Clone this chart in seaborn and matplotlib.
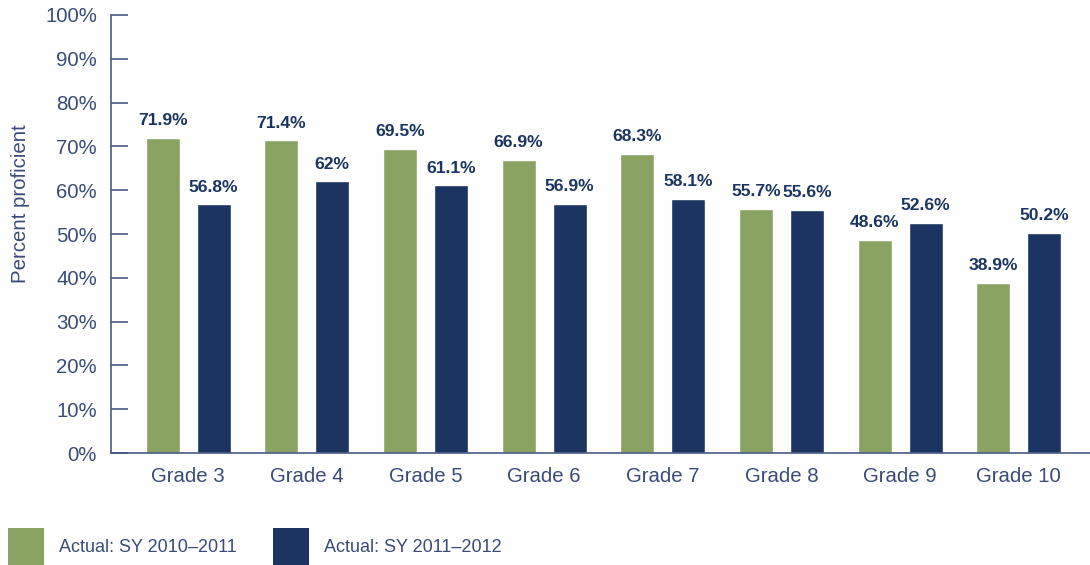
import matplotlib
matplotlib.use("Agg")
import matplotlib.pyplot as plt
import seaborn as sns
import pandas as pd
from matplotlib.patches import Patch

grades = ["Grade 3", "Grade 4", "Grade 5", "Grade 6", "Grade 7", "Grade 8", "Grade 9", "Grade 10"]
sy_2010_2011 = [71.9, 71.4, 69.5, 66.9, 68.3, 55.7, 48.6, 38.9]
sy_2011_2012 = [56.8, 62.0, 61.1, 56.9, 58.1, 55.6, 52.6, 50.2]
series_names = ["Actual: SY 2010\u20132011", "Actual: SY 2011\u20132012"]
y_ticks = [0, 10, 20, 30, 40, 50, 60, 70, 80, 90, 100]

GREEN = "#8AA363"
NAVY = "#1B3461"
TEXT = "#3B4A78"
AXIS = "#4A5A86"

df = pd.DataFrame({
    "grade": grades * 2,
    "value": sy_2010_2011 + sy_2011_2012,
    "series": [series_names[0]] * len(grades) + [series_names[1]] * len(grades),
})

sns.set_theme(style="white")
plt.rcParams["font.family"] = ["Liberation Sans", "DejaVu Sans"]

fig = plt.figure(figsize=(10.9, 5.65), dpi=100)
ax = fig.add_axes([0.1018, 0.198, 0.8982, 0.7755])

sns.barplot(data=df, x="grade", y="value", hue="series", order=grades,
            hue_order=series_names, palette=[GREEN, NAVY], width=0.86, gap=0.333,
            saturation=1, ax=ax, legend=False, errorbar=None)

for cont in ax.containers:
    ax.bar_label(cont, labels=[f"{v:g}%" for v in cont.datavalues], padding=7,
                 fontsize=12.6, fontweight="bold", color=NAVY)

ax.set_ylim(0, 100)
ax.set_xlim(-0.65, 7.6)
ax.set_yticks(y_ticks)
ax.set_yticklabels([f"{t}%" for t in y_ticks])
ax.tick_params(axis="y", direction="in", length=12, width=1.2, color=AXIS,
               labelsize=14.7, labelcolor=TEXT, pad=10, left=True)
ax.tick_params(axis="x", length=0, labelsize=14.7, labelcolor=TEXT, pad=10)
ax.set_xlabel("")
ax.set_ylabel("Percent proficient", fontsize=14.7, color=TEXT)
ax.yaxis.set_label_coords(-0.083, 0.57)

for s in ["top", "right"]:
    ax.spines[s].set_visible(False)
for s in ["left", "bottom"]:
    ax.spines[s].set_color(AXIS)
    ax.spines[s].set_linewidth(1.2)

handles = [Patch(facecolor=GREEN, edgecolor="none"), Patch(facecolor=NAVY, edgecolor="none")]
fig.legend(handles, series_names, loc="lower left", bbox_to_anchor=(0.007, 0.0),
           ncol=2, frameon=False, fontsize=13, labelcolor=TEXT,
           handlelength=2.0, handleheight=2.75, handletextpad=0.85, columnspacing=1.98,
           borderpad=0, borderaxespad=0)

fig.savefig("out.png", dpi=100)
